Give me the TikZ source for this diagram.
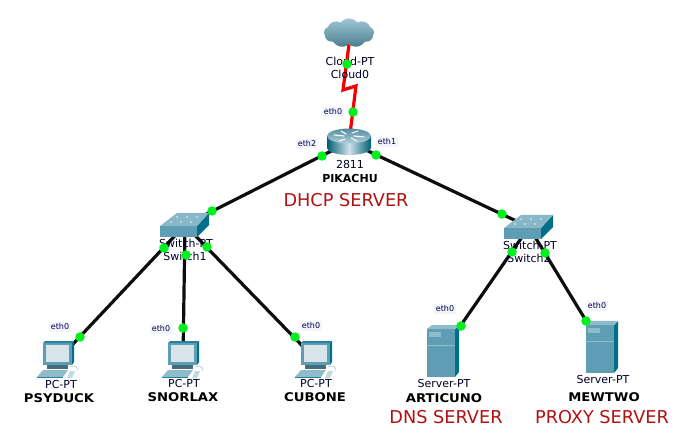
\documentclass[tikz,border=0pt]{standalone}
\usepackage{fontspec}
\setmainfont{DejaVu Sans}
\newfontfamily\namefont[FakeStretch=1.1]{DejaVu Sans}
\usetikzlibrary{shapes.symbols}
\definecolor{linkgreen}{HTML}{00F01E}
\definecolor{srvred}{HTML}{B01212}
\definecolor{iconfront}{HTML}{5E9DB3}
\definecolor{iconside}{HTML}{00708A}
\definecolor{icontop}{HTML}{8FBCCB}
\definecolor{iconscreen}{HTML}{D7E4EA}
\definecolor{ethback}{HTML}{F3F5FB}
\tikzset{
  devspot/.style={inner sep=0pt,minimum size=1pt},
  wire/.style={line width=3.2pt,black!95},
  redwire/.style={line width=3.2pt,red!95!black,line join=miter},
  linkdot/.style={circle,fill=linkgreen,inner sep=0pt,minimum size=9.5pt},
  devtext/.style={font=\fontsize{11}{13}\selectfont,text=black!85!blue,inner sep=0pt},
  nametext/.style={font=\namefont\bfseries\fontsize{12}{14}\selectfont,inner sep=0pt},
  srvtext/.style={font=\fontsize{17.7}{20}\selectfont,text=srvred,inner sep=0pt},
  ethtext/.style={font=\fontsize{8}{10}\selectfont,text=black!70!blue,fill=ethback,inner sep=1.5pt},
  pics/routericon/.style={code={
    \path[left color=iconside!85!black,right color=iconside!85!black,middle color=white!70!iconfront]
      (-22,-6) -- (-22,6) arc[start angle=180,end angle=0,x radius=22,y radius=7] -- (22,-6) -- cycle;
    \path[top color=iconfront!90!black,bottom color=icontop!70!white]
      (0,-6) ellipse[x radius=22,y radius=7.5];
    \draw[white,line width=1.1pt,line cap=round]
      (-15,-7) -- (-5,-6) (15,-5) -- (5,-6) (-4,-3) -- (-10,-1) (3,-9) -- (9,-11)
      (2,-4) -- (8,-1) (-3,-8) -- (-8,-11);
  }},
  pics/switchicon/.style={code={
    \fill[iconfront] (-25,1) rectangle (12,12);
    \fill[iconside] (12,1) -- (24,-12) -- (24,0) -- (12,12) -- cycle;
    \fill[icontop!85!iconfront] (-25,1) -- (-8,-12) -- (24,-12) -- (12,1) -- cycle;
    \foreach \dx/\dy in {-14/-3,-4/-3,6/-3,-8/-8,2/-8,12/-8}
      \fill[white!85!icontop] (\dx,\dy) circle[radius=0.9];
  }},
  pics/servericon/.style={code={
    \fill[iconfront] (-16,-22) rectangle (12,26);
    \fill[iconside] (12,-22) -- (16,-26) -- (16,21) -- (12,26) -- cycle;
    \fill[icontop] (-16,-22) -- (-11,-26) -- (16,-26) -- (12,-22) -- cycle;
    \fill[icontop] (-14,-19) rectangle (-2,-14);
    \draw[icontop,line width=0.5pt] (-16,-6) -- (12,-6);
  }},
  pics/pcicon/.style={code={
    \fill[iconside!60!iconfront] (-15,-17) -- (-13,-19) -- (16,-19) -- (14,-17) -- cycle;
    \fill[iconside] (14,-17) -- (16,-19) -- (16,2) -- (14,5) -- cycle;
    \fill[iconfront] (-15,-17) rectangle (14,5);
    \fill[iconscreen] (-12,-15) rectangle (11,2);
    \fill[iconfront!70!black] (-11,5) rectangle (10,9);
    \fill[icontop] (-15,10) -- (10,10) -- (5,17) -- (-21,17) -- cycle;
    \fill[iconside!60!iconfront] (-21,17) rectangle (5,18);
    \fill[iconscreen!70!icontop] (12,11) -- (17,11) -- (14,18) -- (9,18) -- cycle;
    \draw[icontop,line width=0.5pt] (12,7) .. controls (16,5) and (21,6) .. (19,11);
  }},
}
\begin{document}
\begin{tikzpicture}[x=1pt,y=-1pt]
  \useasboundingbox (0,0) rectangle (688,446);
  % devices
  \node[shape=cloud,cloud puffs=9,cloud puff arc=100,aspect=1.8,inner sep=0pt,minimum width=50pt,minimum height=29pt,
    top color=icontop!85!white,bottom color=iconfront!80!black] (cloud0) at (349,33) {};
  \node[devspot] (pikachu) at (349,142) {};
  \node[devspot] (switch1) at (185,225) {};
  \node[devspot] (switch2) at (529,227) {};
  \node[devspot] (psyduck) at (58,360) {};
  \node[devspot] (snorlax) at (183,360) {};
  \node[devspot] (cubone) at (316,360) {};
  \node[devspot] (articuno) at (443,351) {};
  \node[devspot] (mewtwo) at (602,347) {};
  \coordinate (bolt1) at (343,90);
  \coordinate (bolt2) at (356,86);

  % links
  \draw[redwire] (cloud0.south) -- (bolt1) -- (bolt2) -- (pikachu);
  \path[wire]
    (pikachu) edge (switch1)
    (pikachu) edge (switch2)
    (switch1) edge (psyduck)
    (switch1) edge (snorlax)
    (switch1) edge (cubone)
    (switch2) edge (articuno)
    (switch2) edge (mewtwo)
    ;

  % icons
  \pic at (pikachu) {routericon};
  \pic at (switch1) {switchicon};
  \pic at (switch2) {switchicon};
  \pic at (psyduck) {pcicon};
  \pic at (snorlax) {pcicon};
  \pic at (cubone) {pcicon};
  \pic at (articuno) {servericon};
  \pic at (mewtwo) {servericon};

  % device labels
  \node[devtext] (cloudtype) at (350,61) {Cloud-PT};
  \node[devtext] (cloudname) at (350,74) {Cloud0};
  \node[devtext] (routertype) at (350,164) {2811};
  \node[nametext,font=\bfseries\fontsize{11}{13}\selectfont] (routername) at (350,178) {PIKACHU};
  \node[srvtext] (dhcp) at (346,200) {DHCP SERVER};
  \node[devtext] (sw1type) at (186,243) {Switch-PT};
  \node[devtext] (sw1name) at (185,256) {Switch1};
  \node[devtext] (sw2type) at (530,245) {Switch-PT};
  \node[devtext] (sw2name) at (529,258) {Switch2};
  \node[devtext] (pc1type) at (61,384) {PC-PT};
  \node[nametext] (pc1name) at (59,398) {PSYDUCK};
  \node[devtext] (pc2type) at (184,383) {PC-PT};
  \node[nametext] (pc2name) at (183,397) {SNORLAX};
  \node[devtext] (pc3type) at (316,383) {PC-PT};
  \node[nametext] (pc3name) at (315,397) {CUBONE};
  \node[devtext] (srv1type) at (444,383) {Server-PT};
  \node[nametext] (srv1name) at (444,398) {ARTICUNO};
  \node[srvtext] (dns) at (446,417) {DNS SERVER};
  \node[devtext] (srv2type) at (603,379) {Server-PT};
  \node[nametext] (srv2name) at (604,397) {MEWTWO};
  \node[srvtext] (proxy) at (602,417) {PROXY SERVER};

  % port labels
  \node[ethtext] (port0) at (333,112) {eth0};
  \node[ethtext] (port1) at (387,142) {eth1};
  \node[ethtext] (port2) at (307,144) {eth2};
  \node[ethtext] (port3) at (60,327) {eth0};
  \node[ethtext] (port4) at (161,329) {eth0};
  \node[ethtext] (port5) at (311,326) {eth0};
  \node[ethtext] (port6) at (445,309) {eth0};
  \node[ethtext] (port7) at (597,306) {eth0};

  % link lights
  \foreach \px/\py [count=\n] in {347/64,353/112,322/156,376/155,212/211,502/214,164/248,186/255,207/247,
      80/337,183/328,295/337,512/252,545/253,461/326,586/321}
    \node[linkdot] (dot\n) at (\px,\py) {};
\end{tikzpicture}
\end{document}
